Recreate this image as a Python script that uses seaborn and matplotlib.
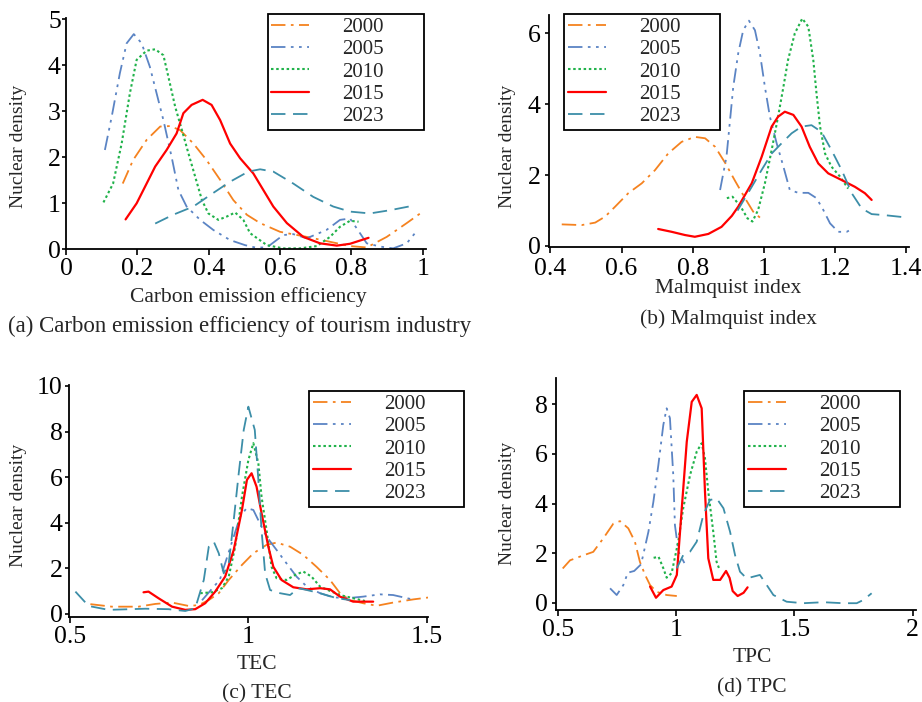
import matplotlib
matplotlib.use("Agg")
import matplotlib.pyplot as plt
import pandas as pd
import seaborn as sns
from matplotlib.ticker import FormatStrFormatter, FixedLocator

# ---------------- data ----------------
years = ["2000", "2005", "2010", "2015", "2023"]
colors = ["#F5821F", "#5B84C4", "#20B24A", "#FF0000", "#3C8EA8"]

# (a) Carbon emission efficiency
cee_2000_x = [0.159, 0.188, 0.226, 0.264, 0.292, 0.32, 0.357, 0.394, 0.432, 0.469, 0.507, 0.544, 0.60, 0.675, 0.73, 0.796, 0.843, 0.899, 0.955, 1.0]
cee_2000_y = [1.43, 1.94, 2.38, 2.67, 2.68, 2.59, 2.30, 1.94, 1.51, 1.07, 0.75, 0.57, 0.38, 0.27, 0.18, 0.07, 0.04, 0.27, 0.57, 0.82]
cee_2005_x = [0.109, 0.128, 0.151, 0.170, 0.19, 0.212, 0.235, 0.254, 0.273, 0.296, 0.315, 0.338, 0.376, 0.413, 0.46, 0.502, 0.53, 0.563, 0.609, 0.637, 0.675, 0.73, 0.768, 0.796, 0.824, 0.843, 0.88, 0.917, 0.955, 0.978]
cee_2005_y = [2.16, 2.88, 3.83, 4.48, 4.68, 4.48, 3.97, 3.39, 2.81, 2.01, 1.29, 0.93, 0.64, 0.42, 0.20, 0.09, 0.04, 0.04, 0.31, 0.33, 0.24, 0.42, 0.64, 0.67, 0.35, 0.13, 0.06, 0.02, 0.13, 0.35]
cee_2010_x = [0.105, 0.132, 0.156, 0.179, 0.198, 0.226, 0.25, 0.273, 0.287, 0.306, 0.325, 0.343, 0.362, 0.381, 0.399, 0.427, 0.45, 0.474, 0.497, 0.516, 0.563, 0.609, 0.656, 0.703, 0.74, 0.768, 0.796, 0.82]
cee_2010_y = [1.02, 1.43, 2.30, 3.39, 4.12, 4.32, 4.35, 4.22, 3.75, 3.10, 2.59, 2.09, 1.58, 1.07, 0.78, 0.64, 0.71, 0.80, 0.64, 0.35, 0.09, 0.02, 0.02, 0.07, 0.27, 0.49, 0.62, 0.60]
cee_2015_x = [0.167, 0.198, 0.226, 0.25, 0.282, 0.31, 0.329, 0.352, 0.383, 0.408, 0.432, 0.46, 0.488, 0.525, 0.553, 0.581, 0.619, 0.665, 0.712, 0.759, 0.796, 0.848]
cee_2015_y = [0.65, 1.0, 1.43, 1.80, 2.16, 2.52, 2.96, 3.14, 3.25, 3.14, 2.81, 2.30, 1.98, 1.65, 1.29, 0.93, 0.57, 0.27, 0.13, 0.08, 0.12, 0.25]
cee_2023_x = [0.25, 0.30, 0.357, 0.404, 0.46, 0.511, 0.544, 0.581, 0.637, 0.693, 0.749, 0.796, 0.852, 0.908, 0.974]
cee_2023_y = [0.56, 0.75, 0.93, 1.18, 1.47, 1.69, 1.74, 1.69, 1.43, 1.14, 0.93, 0.82, 0.78, 0.85, 0.95]

# (b) Malmquist index
mi_2000_x = [0.432, 0.488, 0.526, 0.554, 0.582, 0.619, 0.657, 0.694, 0.731, 0.769, 0.806, 0.835, 0.863, 0.891, 0.919, 0.947, 0.97, 0.997]
mi_2000_y = [0.61, 0.59, 0.66, 0.83, 1.11, 1.49, 1.77, 2.14, 2.61, 2.94, 3.08, 3.04, 2.80, 2.35, 1.84, 1.35, 0.97, 0.73]
mi_2005_x = [0.877, 0.895, 0.905, 0.914, 0.928, 0.942, 0.958, 0.975, 0.989, 1.003, 1.017, 1.036, 1.055, 1.073, 1.097, 1.125, 1.148, 1.167, 1.186, 1.209, 1.233, 1.251]
mi_2005_y = [1.58, 2.52, 3.55, 4.49, 5.44, 6.09, 6.36, 6.09, 5.44, 4.49, 3.65, 2.90, 2.24, 1.58, 1.50, 1.50, 1.35, 1.02, 0.64, 0.40, 0.40, 0.50]
mi_2010_x = [0.896, 0.912, 0.935, 0.954, 0.968, 0.984, 1.003, 1.022, 1.04, 1.055, 1.068, 1.087, 1.108, 1.125, 1.139, 1.148, 1.158, 1.172, 1.19, 1.214, 1.237]
mi_2010_y = [1.35, 1.39, 1.11, 0.78, 0.69, 1.02, 1.77, 2.71, 3.65, 4.49, 5.25, 6.0, 6.42, 6.19, 5.25, 4.31, 3.37, 2.61, 2.24, 1.96, 1.62]
mi_2015_x = [0.703, 0.741, 0.778, 0.806, 0.844, 0.881, 0.91, 0.928, 0.966, 0.994, 1.022, 1.04, 1.059, 1.083, 1.106, 1.129, 1.153, 1.181, 1.219, 1.256, 1.284, 1.303]
mi_2015_y = [0.48, 0.40, 0.31, 0.26, 0.34, 0.54, 0.85, 1.11, 1.77, 2.52, 3.37, 3.65, 3.79, 3.70, 3.37, 2.80, 2.33, 2.05, 1.86, 1.67, 1.49, 1.30]
mi_2023_x = [0.926, 0.966, 0.994, 1.022, 1.05, 1.078, 1.106, 1.134, 1.162, 1.19, 1.219, 1.247, 1.275, 1.303, 1.34, 1.396]
mi_2023_y = [1.0, 1.67, 2.15, 2.61, 2.90, 3.18, 3.37, 3.41, 3.22, 2.71, 2.14, 1.49, 1.06, 0.90, 0.87, 0.81]

# (c) TEC
tec_2000_x = [0.557, 0.617, 0.692, 0.739, 0.786, 0.833, 0.861, 0.889, 0.917, 0.945, 0.982, 1.014, 1.051, 1.079, 1.117, 1.154, 1.191, 1.229, 1.257, 1.285, 1.322, 1.36, 1.406, 1.463, 1.509]
tec_2000_y = [0.43, 0.32, 0.32, 0.44, 0.50, 0.35, 0.39, 0.61, 0.91, 1.49, 2.15, 2.66, 3.03, 3.13, 2.95, 2.59, 2.07, 1.49, 0.91, 0.61, 0.47, 0.36, 0.50, 0.64, 0.73]
tec_2005_x = [0.87, 0.92, 0.955, 0.977, 0.995, 1.014, 1.032, 1.051, 1.079, 1.107, 1.135, 1.164, 1.201, 1.238, 1.276, 1.322, 1.369, 1.406, 1.454]
tec_2005_y = [0.6, 1.5, 3.2, 4.27, 4.64, 4.56, 3.98, 3.39, 2.81, 2.22, 1.64, 1.20, 0.91, 0.73, 0.69, 0.76, 0.86, 0.83, 0.66]
tec_2010_x = [0.865, 0.898, 0.926, 0.945, 0.963, 0.982, 1.0, 1.014, 1.028, 1.037, 1.051, 1.065, 1.079, 1.107, 1.131, 1.154, 1.177, 1.201, 1.229, 1.257, 1.294, 1.327]
tec_2010_y = [0.91, 0.95, 1.13, 1.64, 2.95, 5.14, 6.75, 7.49, 6.61, 5.14, 3.68, 2.07, 1.57, 1.49, 1.71, 1.86, 1.64, 1.20, 1.01, 0.83, 0.69, 0.57]
tec_2015_x = [0.706, 0.72, 0.748, 0.786, 0.823, 0.851, 0.879, 0.907, 0.935, 0.959, 0.982, 0.996, 1.009, 1.023, 1.037, 1.056, 1.07, 1.093, 1.126, 1.164, 1.201, 1.229, 1.257, 1.294, 1.35]
tec_2015_y = [0.95, 0.98, 0.69, 0.32, 0.18, 0.21, 0.47, 0.98, 1.64, 2.81, 4.56, 5.88, 6.17, 5.58, 4.42, 2.95, 2.07, 1.49, 1.17, 1.08, 1.13, 1.08, 0.76, 0.54, 0.54]
tec_2023_x = [0.515, 0.552, 0.608, 0.711, 0.776, 0.823, 0.851, 0.875, 0.889, 0.903, 0.917, 0.931, 0.945, 0.959, 0.973, 0.987, 1.0, 1.018, 1.028, 1.037, 1.047, 1.061, 1.089, 1.117, 1.14, 1.164, 1.201, 1.248, 1.285]
tec_2023_y = [0.98, 0.35, 0.18, 0.23, 0.21, 0.13, 0.25, 1.49, 2.95, 3.17, 2.66, 1.78, 2.22, 4.12, 6.17, 8.07, 9.09, 8.07, 5.88, 3.68, 1.78, 1.05, 0.91, 0.83, 1.13, 1.05, 0.91, 0.69, 0.61]

# (d) TPC
tpc_2000_x = [0.521, 0.552, 0.608, 0.65, 0.692, 0.735, 0.763, 0.798, 0.826, 0.847, 0.869, 0.89, 0.918, 0.96, 1.003]
tpc_2000_y = [1.38, 1.71, 1.91, 2.05, 2.59, 3.19, 3.29, 3.0, 2.46, 1.65, 1.12, 0.71, 0.44, 0.31, 0.27]
tpc_2005_x = [0.721, 0.749, 0.777, 0.796, 0.823, 0.852, 0.883, 0.904, 0.925, 0.946, 0.96, 0.974, 0.988, 0.995, 1.01, 1.035]
tpc_2005_y = [0.58, 0.31, 0.71, 1.21, 1.28, 1.55, 2.86, 4.07, 5.55, 7.17, 7.84, 7.44, 5.15, 3.13, 2.06, 1.60]
tpc_2010_x = [0.905, 0.926, 0.946, 0.96, 0.981, 1.009, 1.03, 1.059, 1.087, 1.108, 1.122, 1.136, 1.157, 1.171, 1.185]
tpc_2010_y = [1.81, 1.85, 1.39, 1.01, 1.19, 2.46, 3.81, 5.15, 6.09, 6.43, 5.82, 4.48, 2.86, 1.65, 1.3]
tpc_2015_x = [0.89, 0.915, 0.946, 0.981, 1.003, 1.024, 1.045, 1.066, 1.087, 1.108, 1.122, 1.136, 1.157, 1.186, 1.211, 1.226, 1.239, 1.26, 1.285, 1.302]
tpc_2015_y = [0.65, 0.20, 0.51, 0.65, 1.12, 3.81, 6.49, 8.10, 8.38, 7.84, 4.48, 1.79, 0.92, 0.92, 1.28, 1.0, 0.47, 0.27, 0.40, 0.62]
tpc_2023_x = [1.003, 1.03, 1.059, 1.087, 1.115, 1.143, 1.171, 1.2, 1.228, 1.249, 1.27, 1.298, 1.326, 1.354, 1.383, 1.411, 1.467, 1.537, 1.622, 1.706, 1.763, 1.791, 1.826]
tpc_2023_y = [1.39, 1.92, 2.06, 2.46, 3.54, 4.14, 4.21, 3.81, 2.86, 1.92, 1.25, 0.98, 1.05, 1.12, 0.71, 0.31, 0.04, -0.02, 0.02, -0.02, -0.02, 0.11, 0.38]

x_labels = ["Carbon emission efficiency", "Malmquist index", "TEC", "TPC"]
captions = ["(a) Carbon emission efficiency of tourism industry", "(b) Malmquist index", "(c) TEC", "(d) TPC"]
y_label = "Nuclear density"

# ---------------- styling ----------------
line_styles = [(0, (8, 3, 1.5, 3)), (0, (8, 3, 1.5, 3, 1.5, 3)), (0, (1.2, 1.3)), "-", (0, (8, 4.2))]
line_widths = [1.3, 1.3, 1.5, 1.6, 1.3]

sns.set_style("ticks")
plt.rcParams["font.family"] = ["Liberation Serif", "DejaVu Serif"]

W, H = 922, 702
fig = plt.figure(figsize=(W / 100, H / 100), dpi=100)


def axes_px(left, top, right, bottom):
    return fig.add_axes([left / W, 1 - bottom / H, (right - left) / W, (bottom - top) / H])


def panel(ax, xs, ys, xlim, ylim, xticks, yticks, xlabel, xlab_pos, ylab_pos, leg_px, xpad, ypad):
    for yr, x, y, c, ls, lw in zip(years, xs, ys, colors, line_styles, line_widths):
        df = pd.DataFrame({"x": x, "y": y})
        sns.lineplot(data=df, x="x", y="y", ax=ax, color=c, linestyle=ls,
                     linewidth=lw, label=yr, sort=False, estimator=None, legend=False)
    ax.set_xlim(*xlim)
    ax.set_ylim(*ylim)
    ax.xaxis.set_major_locator(FixedLocator(xticks))
    ax.yaxis.set_major_locator(FixedLocator(yticks))
    ax.xaxis.set_major_formatter(FormatStrFormatter("%g"))
    ax.yaxis.set_major_formatter(FormatStrFormatter("%g"))
    for s in ["top", "right"]:
        ax.spines[s].set_visible(False)
    for s in ["left", "bottom"]:
        ax.spines[s].set_linewidth(1.3)
        ax.spines[s].set_color("black")
    ax.tick_params(axis="both", direction="out", width=1.2, colors="black",
                   labelsize=18.5)
    ax.tick_params(axis="x", length=4, pad=xpad)
    ax.tick_params(axis="y", length=3.2, pad=ypad)
    ax.set_xlabel(xlabel, fontsize=15.5)
    ax.set_ylabel(y_label, fontsize=14)
    ax.xaxis.label.set_va("center")
    ax.yaxis.label.set_va("center")
    ax.xaxis.set_label_coords(*xlab_pos)
    ax.yaxis.set_label_coords(*ylab_pos)
    handles, labels = ax.get_legend_handles_labels()
    l, t, r = leg_px
    leg = ax.legend(handles, labels, loc="upper left",
                    bbox_to_anchor=(l / W, 1 - t / H - 0.3, (r - l) / W, 0.3),
                    bbox_transform=fig.transFigure, mode="expand", borderaxespad=0,
                    frameon=True, fancybox=False, edgecolor="black", framealpha=1,
                    fontsize=15, borderpad=0.18, labelspacing=0.13,
                    handlelength=1.8, handletextpad=1.6)
    leg.get_frame().set_linewidth(1.3)


ax_a = axes_px(66, 18, 426, 249.3)
panel(ax_a,
      [cee_2000_x, cee_2005_x, cee_2010_x, cee_2015_x, cee_2023_x],
      [cee_2000_y, cee_2005_y, cee_2010_y, cee_2015_y, cee_2023_y],
      (0, 1.009), (0, 5.03), [0, 0.2, 0.4, 0.6, 0.8, 1], [0, 1, 2, 3, 4, 5],
      x_labels[0], (0.506, -0.205), (-0.133, 0.447), (267.7, 13.8, 424), 2.5, 0.5)

ax_b = axes_px(549.3, 15, 909, 246.7)
panel(ax_b,
      [mi_2000_x, mi_2005_x, mi_2010_x, mi_2015_x, mi_2023_x],
      [mi_2000_y, mi_2005_y, mi_2010_y, mi_2015_y, mi_2023_y],
      (0.397, 1.408), (-0.02, 6.52), [0.4, 0.6, 0.8, 1, 1.2, 1.4], [0, 2, 4, 6],
      x_labels[1], (0.496, -0.18), (-0.116, 0.435), (564.3, 13.8, 720.3), 4.0, 3.0)

ax_c = axes_px(68.5, 385, 428.3, 616.7)
panel(ax_c,
      [tec_2000_x, tec_2005_x, tec_2010_x, tec_2015_x, tec_2023_x],
      [tec_2000_y, tec_2005_y, tec_2010_y, tec_2015_y, tec_2023_y],
      (0.4956, 1.5046), (-0.12, 10.04), [0.5, 1, 1.5], [0, 2, 4, 6, 8, 10],
      x_labels[2], (0.523, -0.205), (-0.140, 0.481), (309.3, 390.8, 464), 2.5, 1.2)

ax_d = axes_px(556, 378.3, 916, 610)
panel(ax_d,
      [tpc_2000_x, tpc_2005_x, tpc_2010_x, tpc_2015_x, tpc_2023_x],
      [tpc_2000_y, tpc_2005_y, tpc_2010_y, tpc_2015_y, tpc_2023_y],
      (0.4926, 2.0135), (-0.294, 9.05), [0.5, 1, 1.5, 2], [0, 2, 4, 6, 8],
      x_labels[3], (0.544, -0.203), (-0.134, 0.46), (744.3, 390.8, 900.3), 2.5, 2.8)

cap_pos = [(240, 326.7), (728, 319), (256.7, 694), (751.5, 687.7)]
cap_sizes = [16.5, 15.5, 15.5, 15.5]
for txt, (cx, cy), fs in zip(captions, cap_pos, cap_sizes):
    fig.text(cx / W, 1 - cy / H, txt, ha="center", va="center", fontsize=fs)

fig.savefig("out.png", dpi=100)
